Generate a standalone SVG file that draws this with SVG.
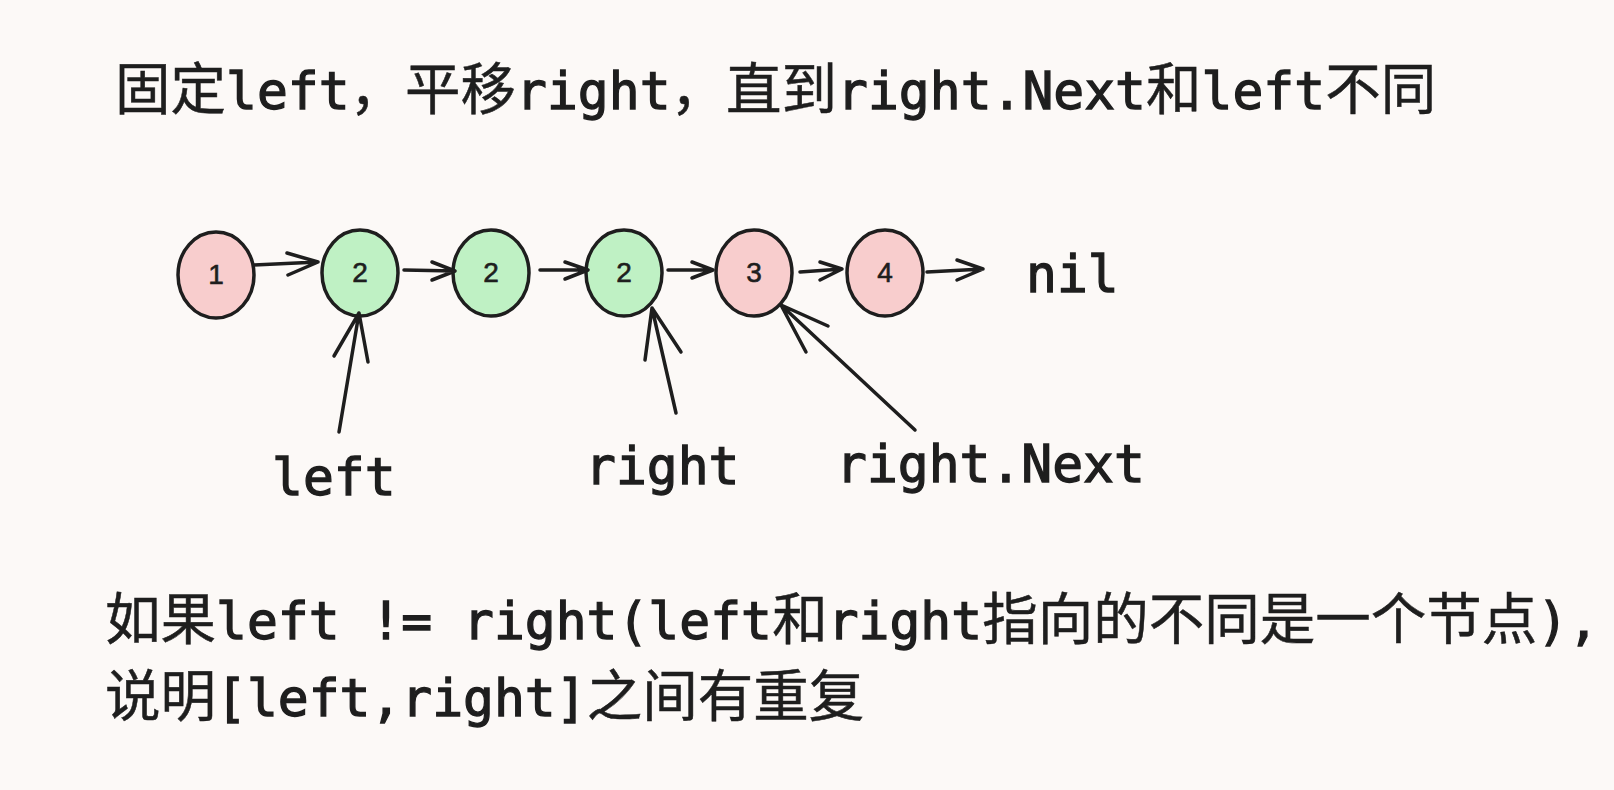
<svg xmlns="http://www.w3.org/2000/svg" width="1614" height="790" viewBox="0 0 1614 790">
<style>
.bg{fill:#fcf9f7}
.node ellipse{stroke:#1e1e1e;stroke-width:3.5}
.pink{fill:#f8cdcd}
.green{fill:#bff1c4}
.num{font-family:"Liberation Sans",Arial,sans-serif;font-size:28px;fill:#1e1e1e;stroke:#1e1e1e;stroke-width:0.6;text-anchor:middle}
.edge{fill:none;stroke:#1e1e1e;stroke-width:3.5;stroke-linecap:round;stroke-linejoin:round}
.t{fill:#1e1e1e}
.l{font-family:"DejaVu Sans Mono","Liberation Mono",monospace;font-size:51.3px;stroke:#1e1e1e;stroke-width:1.3}
.c{font-family:"Noto Sans CJK SC","Noto Sans CJK JP",sans-serif;font-size:55.5px;font-weight:400;stroke:#1e1e1e;stroke-width:0.5}
</style>
<rect class="bg" x="0" y="0" width="1614" height="790"/>

<g id="title">
<text class="t" y="109"><tspan class="c" x="115">固定</tspan><tspan class="l" x="226">left</tspan><tspan class="c" x="349.6">，</tspan><tspan class="c" x="405.1">平移</tspan><tspan class="l" x="516.1">right</tspan><tspan class="c" x="670.6">，</tspan><tspan class="c" x="726.1">直到</tspan><tspan class="l" x="837.1">right.Next</tspan><tspan class="c" x="1146.1">和</tspan><tspan class="l" x="1201.6">left</tspan><tspan class="c" x="1325.2">不同</tspan></text>
</g>

<g id="node1" class="node"><ellipse class="pink" cx="216" cy="275" rx="38" ry="43"/><text class="num" x="216" y="284">1</text></g>
<g id="node2a" class="node"><ellipse class="green" cx="360" cy="273" rx="38" ry="43"/><text class="num" x="360" y="282">2</text></g>
<g id="node2b" class="node"><ellipse class="green" cx="491" cy="273" rx="38" ry="43"/><text class="num" x="491" y="282">2</text></g>
<g id="node2c" class="node"><ellipse class="green" cx="624" cy="273" rx="38" ry="43"/><text class="num" x="624" y="282">2</text></g>
<g id="node3" class="node"><ellipse class="pink" cx="754" cy="273" rx="38" ry="43"/><text class="num" x="754" y="282">3</text></g>
<g id="node4" class="node"><ellipse class="pink" cx="885" cy="273" rx="38" ry="43"/><text class="num" x="885" y="282">4</text></g>

<g id="nil"><text class="t l" x="1026" y="292">nil</text></g>
<g id="label-left"><text class="t l" x="272" y="495">left</text></g>
<g id="label-right"><text class="t l" x="585" y="484">right</text></g>
<g id="label-rightnext"><text class="t l" x="836" y="482">right.Next</text></g>

<g id="connectors">
<path class="edge" d="M254 265 L318 262 M287 253 L318 262 L288 275"/>
<path class="edge" d="M404 270 L455 271 M432 262 L455 271 L432 280"/>
<path class="edge" d="M540 270 L588 270 M565 262 L588 270 L565 279"/>
<path class="edge" d="M668 270 L713 270 M692 262 L713 270 L692 278"/>
<path class="edge" d="M800 272 L842 269 M820 262 L842 269 L820 280"/>
<path class="edge" d="M927 272 L983 269 M957 260 L983 269 L957 280"/>
<path class="edge" d="M339 432 L359 313 M334 356 L359 313 L368 362"/>
<path class="edge" d="M676 413 L652 308 M645 360 L652 308 L681 352"/>
<path class="edge" d="M915 430 L781 305 M806 352 L781 305 L828 326"/>
</g>

<g id="note">
<text class="t" y="639"><tspan class="c" x="105">如果</tspan><tspan class="l" x="216">left != right(left</tspan><tspan class="c" x="772.2">和</tspan><tspan class="l" x="827.7">right</tspan><tspan class="c" x="982.2">指向的不同是一个节点</tspan><tspan class="l" x="1537.2">),</tspan></text>
<text class="t" y="716"><tspan class="c" x="105">说明</tspan><tspan class="l" x="216">[left,right]</tspan><tspan class="c" x="586.8">之间有重复</tspan></text>
</g>
</svg>
